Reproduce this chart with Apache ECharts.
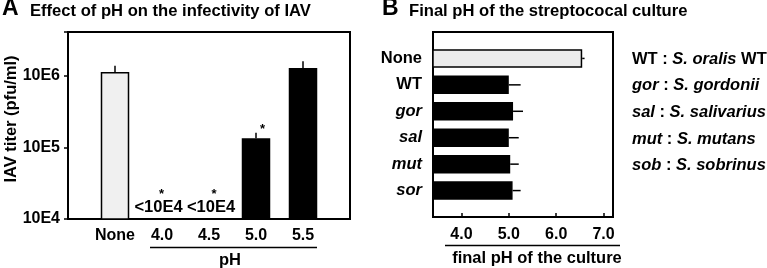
<!DOCTYPE html>
<html><head><meta charset="utf-8">
<script src="https://cdn.jsdelivr.net/npm/echarts@6/dist/echarts.min.js"></script>
<style>html,body{margin:0;padding:0;background:#fff}#c{width:767px;height:268px}</style>
</head><body><div id="c"></div>
<script>
const FONT = '"Liberation Sans", Arial, Helvetica, sans-serif';

// ---------- Panel A data ----------
const catsA = ['None', '4.0', '4.5', '5.0', '5.5'];
const titerA = [1.13e6, null, null, 1.34e5, 1.29e6];
const titerErrTopA = [1.38e6, null, null, 1.6e5, 1.6e6];
const belowLimitA = [false, true, true, false, false];
const starA = [false, true, true, true, false];
const yTickLabelsA = { 4: '10E4', 5: '10E5', 6: '10E6' };
const belowLimitText = '<10E4';
const detectionLimitA = 1e4;
const yMaxA = 4.1e6;

// ---------- Panel B data ----------
const catsB = ['None', 'WT', 'gor', 'sal', 'mut', 'sor'];
const italicCatsB = ['gor', 'sal', 'mut', 'sor'];
const phB = [6.55, 5.0, 5.09, 5.0, 5.03, 5.08];
const phErrTopB = [6.6, 5.25, 5.3, 5.21, 5.21, 5.25];
const xTicksB = [4, 5, 6, 7];
const legendB = [
  [['WT : ', 'b'], ['S. oralis', 'bi'], [' WT', 'b']],
  [['gor', 'bi'], [' : ', 'b'], ['S. gordonii', 'bi']],
  [['sal', 'bi'], [' : ', 'b'], ['S. salivarius', 'bi']],
  [['mut', 'bi'], [' : ', 'b'], ['S. mutans', 'bi']],
  [['sob', 'bi'], [' : ', 'b'], ['S. sobrinus', 'bi']]
];

const pad = arr => [null, ...arr, null];
const padCat = arr => ['', ...arr, ''];

const chart = echarts.init(document.getElementById('c'), null, { renderer: 'canvas' });

const bold = { fontFamily: FONT, fontWeight: 'bold', color: '#000' };
const gText = (size, extra) => Object.assign({ fill: '#000', fontFamily: FONT, fontWeight: 'bold', fontSize: size, align: 'center', verticalAlign: 'middle' }, extra || {});
const firstBelow = belowLimitA.indexOf(true) + 1; // padded index

const option = {
  animation: false,
  backgroundColor: '#fff',
  textStyle: { fontFamily: FONT },
  title: [
    { text: 'A', left: 2, top: -3, padding: 0, textStyle: Object.assign({ fontSize: 23 }, bold) },
    { text: 'Effect of pH on the infectivity of IAV', left: 30, top: 3, padding: 0, textStyle: Object.assign({ fontSize: 16.6 }, bold) },
    { text: 'B', left: 382, top: -3, padding: 0, textStyle: Object.assign({ fontSize: 23 }, bold) },
    { text: 'Final pH of the streptococal culture', left: 409, top: 3, padding: 0, textStyle: Object.assign({ fontSize: 16.6 }, bold) }
  ],
  grid: [
    { left: 68, top: 32, width: 282, height: 187, show: true, borderColor: '#000', borderWidth: 2, backgroundColor: 'transparent' },
    { left: 433, top: 32, width: 180, height: 185, show: true, borderColor: '#000', borderWidth: 2, backgroundColor: 'transparent' }
  ],
  xAxis: [
    {
      gridIndex: 0, type: 'category', data: padCat(catsA), boundaryGap: false,
      axisLine: { show: false }, axisTick: { show: false }, splitLine: { show: false },
      axisLabel: Object.assign({ fontSize: 16, margin: 9, interval: 0 }, bold)
    },
    {
      gridIndex: 1, type: 'value', min: 3.4, max: 7.2,
      axisLine: { show: false }, splitLine: { show: false },
      axisTick: { show: true, inside: true, length: 4, customValues: xTicksB, lineStyle: { color: '#000', width: 1.5 } },
      axisLabel: Object.assign({ fontSize: 16, margin: 10, customValues: xTicksB, formatter: v => Number(v).toFixed(1) }, bold)
    }
  ],
  yAxis: [
    {
      gridIndex: 0, type: 'log', logBase: 10, min: detectionLimitA, max: yMaxA,
      axisLine: { show: false }, splitLine: { show: false },
      axisTick: { show: true, length: 4, lineStyle: { color: '#000', width: 1.5 } },
      axisLabel: Object.assign({ fontSize: 16, margin: 8, formatter: v => yTickLabelsA[Math.round(Math.log10(v))] || '' }, bold)
    },
    {
      gridIndex: 1, type: 'category', inverse: true, data: padCat(catsB), boundaryGap: false,
      axisLine: { show: false }, axisTick: { show: false }, splitLine: { show: false },
      axisLabel: {
        margin: 11, interval: 0,
        formatter: v => v === '' ? '' : (italicCatsB.includes(v) ? '{i|' + v + '}' : '{n|' + v + '}'),
        rich: {
          n: Object.assign({ fontSize: 16.5 }, bold),
          i: Object.assign({ fontSize: 16.5, fontStyle: 'italic' }, bold)
        }
      }
    }
  ],
  series: [
    {
      type: 'bar', xAxisIndex: 0, yAxisIndex: 0, barWidth: 28.5, clip: true, z: 2,
      data: pad(titerA).map((v, i) => v == null ? null : { value: v, itemStyle: { color: i === 1 ? '#f0f0f0' : '#000' } }),
      itemStyle: { borderColor: '#000', borderWidth: 1.5 }
    },
    {
      type: 'custom', xAxisIndex: 0, yAxisIndex: 0, z: 3,
      data: pad(titerA).map((v, i) => [i, v, pad(titerErrTopA)[i]]).filter(d => d[1] != null),
      renderItem: (p, api) => {
        const a = api.coord([api.value(0), api.value(1)]);
        const b = api.coord([api.value(0), api.value(2)]);
        return { type: 'line', shape: { x1: a[0], y1: a[1], x2: b[0], y2: b[1] }, style: { stroke: '#000', lineWidth: 1.5 } };
      }
    },
    {
      type: 'custom', xAxisIndex: 0, yAxisIndex: 0, z: 4,
      data: pad(catsA).map((c, i) => [i, pad(belowLimitA)[i] ? 1 : 0, pad(starA)[i] ? 1 : 0, pad(titerErrTopA)[i] || detectionLimitA]).filter(d => d[1] || d[2]),
      renderItem: (p, api) => {
        const i = api.value(0), below = api.value(1), star = api.value(2), top = api.value(3);
        const children = [];
        if (below) {
          const b = api.coord([i, detectionLimitA]);
          const dx = i === firstBelow ? -3.5 : 2;
          children.push({ type: 'text', x: b[0] + dx, y: b[1] - 12, style: gText(16.5, { text: belowLimitText }) });
          if (star) children.push({ type: 'text', x: b[0] + dx + 3, y: b[1] - 25, style: gText(13, { text: '*' }) });
        } else if (star) {
          const t = api.coord([i, top]);
          children.push({ type: 'text', x: t[0] + 6.5, y: t[1] - 3.5, style: gText(13, { text: '*' }) });
        }
        return { type: 'group', children };
      }
    },
    {
      type: 'bar', xAxisIndex: 1, yAxisIndex: 1, barWidth: 18.5, clip: true, z: 2,
      data: pad(phB).map((v, i) => v == null ? null : { value: v, itemStyle: { color: i === 1 ? '#ebebeb' : '#000' } }),
      itemStyle: { borderColor: '#000', borderWidth: 1.5 }
    },
    {
      type: 'custom', xAxisIndex: 1, yAxisIndex: 1, z: 3,
      data: pad(phB).map((v, i) => [v, i, pad(phErrTopB)[i]]).filter(d => d[0] != null),
      encode: { x: [0, 2], y: 1 },
      renderItem: (p, api) => {
        const a = api.coord([api.value(0), api.value(1)]);
        const b = api.coord([api.value(2), api.value(1)]);
        return { type: 'line', shape: { x1: a[0], y1: a[1], x2: b[0], y2: b[1] }, style: { stroke: '#000', lineWidth: 1.5 } };
      }
    }
  ],
  graphic: [
    { type: 'text', x: 11, y: 119, rotation: Math.PI / 2, style: gText(16.5, { text: 'IAV titer (pfu/ml)' }) },
    { type: 'line', shape: { x1: 150, y1: 247.5, x2: 317, y2: 247.5 }, style: { stroke: '#000', lineWidth: 1.5 } },
    { type: 'text', x: 230, y: 260, style: gText(16.5, { text: 'pH' }) },
    { type: 'line', shape: { x1: 445, y1: 245.5, x2: 620, y2: 245.5 }, style: { stroke: '#000', lineWidth: 1.5 } },
    { type: 'text', x: 537, y: 258, style: gText(16.5, { text: 'final pH of the culture' }) }
  ].concat(legendB.map((parts, k) => ({
    type: 'text', x: 632, y: 59 + k * 26.7,
    style: {
      text: parts.map(p => '{' + p[1] + '|' + p[0] + '}').join(''),
      verticalAlign: 'middle', align: 'left',
      rich: {
        b: { fontFamily: FONT, fontWeight: 'bold', fontSize: 16.5, fill: '#000' },
        bi: { fontFamily: FONT, fontWeight: 'bold', fontStyle: 'italic', fontSize: 16.5, fill: '#000' }
      }
    }
  })))
};
chart.setOption(option);
</script>
</body></html>
